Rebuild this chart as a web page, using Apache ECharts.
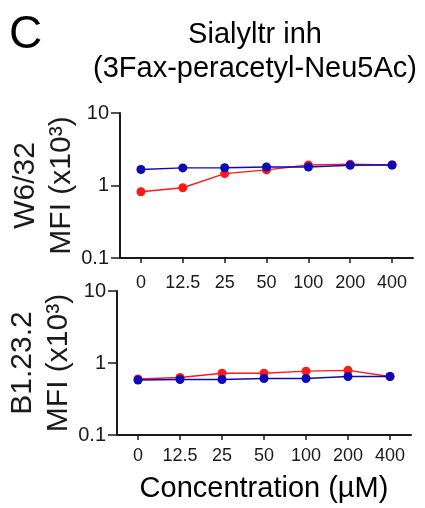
<!DOCTYPE html>
<html>
<head>
<meta charset="utf-8">
<script src="https://cdn.jsdelivr.net/npm/echarts@6/dist/echarts.min.js"></script>
<style>
  html, body { margin: 0; padding: 0; background: #fff; }
  #chart { width: 425px; height: 508px; }
</style>
</head>
<body>
<div id="chart"></div>
<script>
const concentrations = ['0', '12.5', '25', '50', '100', '200', '400']
const w632Red = [0.82, 0.93, 1.46, 1.64, 1.92, 1.97, 1.92]
const w632Blue = [1.66, 1.75, 1.76, 1.8, 1.8, 1.9, 1.92]
const b1232Red = [0.6, 0.63, 0.72, 0.72, 0.77, 0.79, 0.65]
const b1232Blue = [0.58, 0.59, 0.59, 0.61, 0.61, 0.65, 0.65]

const font = 'Liberation Sans, Arial, Helvetica, sans-serif'
const ink = '#1a1a1a'

function xAxis(gridIndex, margin, name) {
  return {
    type: 'category',
    gridIndex: gridIndex,
    data: concentrations,
    boundaryGap: true,
    name: name,
    nameLocation: 'middle',
    nameGap: 39,
    nameMoveOverlap: false,
    nameTextStyle: { color: '#000', fontSize: 29, fontFamily: font },
    axisLine: { lineStyle: { color: ink, width: 2 } },
    axisTick: { show: true, alignWithLabel: true, interval: 0, length: 5, lineStyle: { color: ink, width: 1.5 } },
    axisLabel: { color: ink, fontSize: 18, fontFamily: font, margin: margin, interval: 0 }
  }
}

function yAxis(gridIndex, name) {
  return {
    type: 'log',
    logBase: 10,
    gridIndex: gridIndex,
    min: 0.1,
    max: 10,
    name: name + '\nMFI (x10³)',
    nameLocation: 'middle',
    nameRotate: 90,
    nameGap: 40,
    nameMoveOverlap: false,
    nameTextStyle: { color: ink, fontSize: 30, fontFamily: font, lineHeight: 36 },
    axisLine: { show: true, lineStyle: { color: ink, width: 2 } },
    axisTick: { show: true, length: 9, lineStyle: { color: ink, width: 1.5 } },
    minorTick: { show: false },
    splitLine: { show: false },
    axisLabel: {
      color: ink,
      fontSize: 20,
      fontFamily: font,
      margin: 11,
      formatter: function(v) {
        if (v >= 9.9) return '10'
        if (v >= 0.99) return '1'
        return '0.1'
      }
    }
  }
}

function line(xi, data, color, z) {
  return {
    type: 'line',
    xAxisIndex: xi,
    yAxisIndex: xi,
    data: data,
    symbol: 'circle',
    symbolSize: 9,
    z: z,
    lineStyle: { color: color, width: 1.4 },
    itemStyle: { color: color },
    animation: false
  }
}

const chart = echarts.init(document.getElementById('chart'))
chart.setOption({
  backgroundColor: '#fff',
  title: [
    {
      text: 'C',
      left: 4,
      top: 7,
      textStyle: { color: '#000', fontSize: 46, fontWeight: 'normal', fontFamily: font }
    },
    {
      text: 'Sialyltr inh\n(3Fax-peracetyl-Neu5Ac)',
      left: 250,
      top: 13,
      textAlign: 'center',
      textStyle: { color: '#000', fontSize: 29, fontWeight: 'normal', fontFamily: font, lineHeight: 34 }
    }
  ],
  grid: [
    { left: 120, top: 113, width: 293, height: 145, outerBoundsMode: 'none', containLabel: false },
    { left: 117, top: 291, width: 294, height: 144, outerBoundsMode: 'none', containLabel: false }
  ],
  xAxis: [xAxis(0, 16, ''), xAxis(1, 12, 'Concentration (µM)')],
  yAxis: [yAxis(0, 'W6/32'), yAxis(1, 'B1.23.2')],
  series: [
    line(0, w632Red, '#ff1a1a', 2),
    line(0, w632Blue, '#0a0ab8', 3),
    line(1, b1232Red, '#ff1a1a', 2),
    line(1, b1232Blue, '#0a0ab8', 3)
  ]
})
</script>
</body>
</html>
